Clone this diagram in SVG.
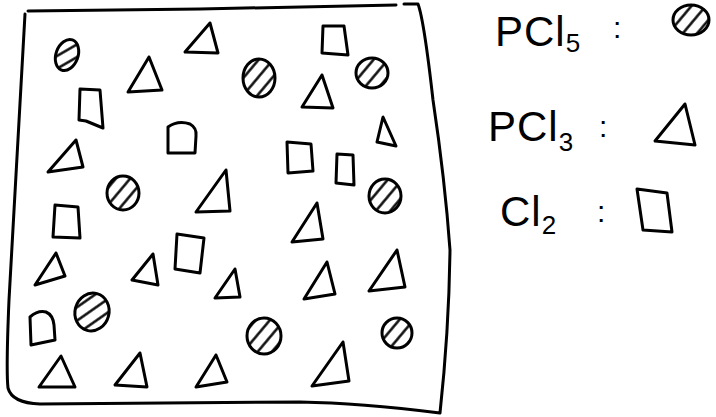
<svg xmlns="http://www.w3.org/2000/svg" width="716" height="417" viewBox="0 0 716 417">
<style>
.s{fill:none;stroke:#000;stroke-width:3;stroke-linejoin:round;stroke-linecap:round}
.h{fill:url(#hatch);stroke:#000;stroke-width:3}
.t{font-family:"Liberation Sans","DejaVu Sans",sans-serif;font-size:42px;fill:#000}
.sub{font-size:26px}
.c{font-family:"Liberation Sans","DejaVu Sans",sans-serif;font-size:30px;fill:#000}
</style>
<defs>
<pattern id="hatch" patternUnits="userSpaceOnUse" width="11" height="11" patternTransform="rotate(-50)">
<rect width="11" height="11" fill="#fff"/>
<line x1="0" y1="5.5" x2="11" y2="5.5" stroke="#000" stroke-width="2.4"/>
</pattern>
</defs>
<rect width="716" height="417" fill="#fff"/>
<g id="container">
<path class="s" d="M28,11 L200,9 L396,5 M404,4 L418,4 Q424,20 433,100 Q445,180 450,250 Q449,330 440,413 Q360,403 300,402 L40,404 Q12,403 8,388 Q6,370 9,300 L25,14"/>
</g>
<g id="particles">
<g id="pcl5">
<ellipse class="h" cx="67" cy="55" rx="11" ry="16" transform="rotate(20 67 55)"/>
<ellipse class="h" cx="259" cy="78" rx="16" ry="19"/>
<ellipse class="h" cx="372" cy="73" rx="16" ry="15"/>
<ellipse class="h" cx="123" cy="193" rx="16" ry="17"/>
<ellipse class="h" cx="385" cy="196" rx="16" ry="17"/>
<ellipse class="h" cx="92" cy="312" rx="17" ry="19" transform="rotate(15 92 312)"/>
<ellipse class="h" cx="264" cy="336" rx="17" ry="18"/>
<ellipse class="h" cx="397" cy="333" rx="15" ry="15"/>
</g>
<g id="pcl3">
<path class="s" d="M210,23 L185,52 L218,53 Z"/>
<path class="s" d="M149,57 L128,92 L162,90 Z"/>
<path class="s" d="M322,75 L302,107 L333,108 Z"/>
<path class="s" d="M383,117 L377,142 L396,146 Z"/>
<path class="s" d="M76,140 L48,172 L83,167 Z"/>
<path class="s" d="M226,170 L196,212 L230,211 Z"/>
<path class="s" d="M317,203 L292,242 L323,239 Z"/>
<path class="s" d="M56,253 L35,285 L65,276 Z"/>
<path class="s" d="M153,254 L132,280 L158,285 Z"/>
<path class="s" d="M235,269 L215,298 L240,297 Z"/>
<path class="s" d="M327,262 L304,299 L335,294 Z"/>
<path class="s" d="M397,250 L369,291 L405,287 Z"/>
<path class="s" d="M343,342 L312,386 L349,381 Z"/>
<path class="s" d="M61,356 L39,387 L75,387 Z"/>
<path class="s" d="M140,353 L115,385 L147,387 Z"/>
<path class="s" d="M216,355 L196,387 L227,382 Z"/>
</g>
<g id="cl2">
<path class="s" d="M80,89 L100,90 L103,128 L86,121 L79,120 Z"/>
<path class="s" d="M168,153 L168,127 Q178,120 190,124 Q197,128 196,136 L195,153 Z"/>
<path class="s" d="M323,26 L344,26 L348,55 L322,53 Z"/>
<path class="s" d="M287,142 L311,144 L313,171 L288,173 Z"/>
<path class="s" d="M337,154 L353,155 L354,185 L336,183 Z"/>
<path class="s" d="M55,205 L78,207 L80,238 L53,237 Z"/>
<path class="s" d="M177,234 L204,238 L200,273 L175,269 Z"/>
<path class="s" d="M31,345 L30,317 Q38,310 46,312 Q53,315 54,325 L55,340 Z"/>
</g>
</g>
<g id="legend">
<g id="legend-pcl5">
<text class="t" x="495" y="46" letter-spacing="1">PCl<tspan class="sub" dy="6">5</tspan></text>
<text class="c" x="613" y="38">:</text>
<ellipse class="h" cx="691" cy="20" rx="18" ry="15"/>
</g>
<g id="legend-pcl3">
<text class="t" x="488" y="141" letter-spacing="1">PCl<tspan class="sub" dy="10">3</tspan></text>
<text class="c" x="599" y="137">:</text>
<path class="s" d="M685,104 L655,141 L695,145 Z"/>
</g>
<g id="legend-cl2">
<text class="t" x="500" y="226" letter-spacing="1">Cl<tspan class="sub" dy="8">2</tspan></text>
<text class="c" x="597" y="222">:</text>
<path class="s" d="M637,189 L667,193 L672,232 L643,230 Z"/>
</g>
</g>
</svg>
